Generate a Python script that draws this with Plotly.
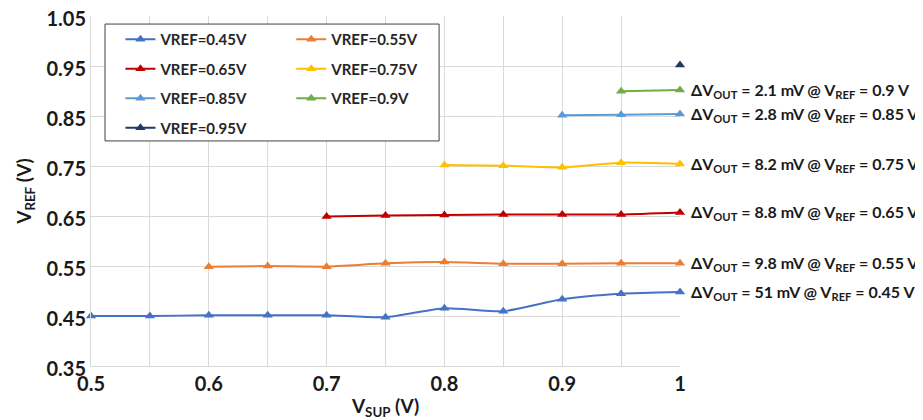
import plotly.graph_objects as go

vsup = [0.5, 0.55, 0.6, 0.65, 0.7, 0.75, 0.8, 0.85, 0.9, 0.95, 1.0]

names = ["VREF=0.45V", "VREF=0.55V", "VREF=0.65V", "VREF=0.75V",
         "VREF=0.85V", "VREF=0.9V", "VREF=0.95V"]
colors = ["#4472C4", "#ED7D31", "#C00000", "#FFC000", "#5B9BD5", "#70AD47", "#203864"]

v045 = [0.450, 0.450, 0.4515, 0.4515, 0.4515, 0.4475, 0.4655, 0.4595, 0.4835, 0.4945, 0.498]
v055 = [None, None, 0.5487, 0.550, 0.5487, 0.5553, 0.558, 0.5547, 0.5547, 0.5553, 0.5555]
v065 = [None, None, None, None, 0.649, 0.651, 0.652, 0.653, 0.653, 0.653, 0.657]
v075 = [None, None, None, None, None, None, 0.752, 0.7507, 0.7473, 0.7567, 0.754]
v085 = [None, None, None, None, None, None, None, None, 0.8513, 0.8527, 0.854]
v090 = [None, None, None, None, None, None, None, None, None, 0.8993, 0.902]
v095 = [None, None, None, None, None, None, None, None, None, None, 0.952]
series = [v045, v055, v065, v075, v085, v090, v095]

notes = ["ΔV<sub>OUT</sub> = 51 mV @ V<sub>REF</sub> = 0.45 V",
         "ΔV<sub>OUT</sub> = 9.8 mV @ V<sub>REF</sub> = 0.55 V",
         "ΔV<sub>OUT</sub> = 8.8 mV @ V<sub>REF</sub> = 0.65 V",
         "ΔV<sub>OUT</sub> = 8.2 mV @ V<sub>REF</sub> = 0.75 V",
         "ΔV<sub>OUT</sub> = 2.8 mV @ V<sub>REF</sub> = 0.85 V",
         "ΔV<sub>OUT</sub> = 2.1 mV @ V<sub>REF</sub> = 0.9 V"]

xtickvals = [0.5, 0.6, 0.7, 0.8, 0.9, 1.0]
xticktext = ["0.5", "0.6", "0.7", "0.8", "0.9", "1"]
ytickvals = [0.35, 0.45, 0.55, 0.65, 0.75, 0.85, 0.95, 1.05]
yticktext = ["0.35", "0.45", "0.55", "0.65", "0.75", "0.85", "0.95", "1.05"]

FONT = "Lato"
fig = go.Figure()
left_col = [0, 2, 4, 6]
for i, (nm, col, ys) in enumerate(zip(names, colors, series)):
    fig.add_trace(go.Scatter(
        x=vsup, y=ys, name=nm, mode="lines+markers",
        line=dict(color=col, width=2, shape="spline", smoothing=0.6),
        marker=dict(symbol="triangle-up", size=9, color=col),
        cliponaxis=False, connectgaps=False,
        legendgroup=nm,
        legend="legend" if i in left_col else "legend2",
    ))

for i, txt in enumerate(notes):
    last = [v for v in series[i] if v is not None][-1]
    fig.add_annotation(x=1.0, y=last, xref="x", yref="y", text=txt,
                       showarrow=False, xanchor="left", yanchor="middle", xshift=9,
                       font=dict(family=FONT, size=16, color="#1a1a1a", weight="bold"))

fig.add_shape(type="rect", xref="paper", yref="paper",
              x0=0.0238, x1=0.591, y0=0.643, y1=0.977,
              line=dict(color="#404040", width=1), fillcolor="white", layer="above")

legfont = dict(family=FONT, size=15, color="#262626", weight="bold")
fig.update_layout(
    width=915, height=412,
    margin=dict(l=83, r=243, t=8, b=54),
    paper_bgcolor="white", plot_bgcolor="white",
    font=dict(family=FONT, color="#262626"),
    legend=dict(x=0.05, y=0.98, xanchor="left", yanchor="top", bgcolor="rgba(0,0,0,0)",
                font=legfont, tracegroupgap=7, itemwidth=30),
    legend2=dict(x=0.34, y=0.98, xanchor="left", yanchor="top", bgcolor="rgba(0,0,0,0)",
                 font=legfont, tracegroupgap=7, itemwidth=30),
    xaxis=dict(range=[0.5, 1.0], tickvals=xtickvals, ticktext=xticktext, automargin=False,
               showgrid=True, gridcolor="#D9D9D9", gridwidth=1, ticklabeloverflow="allow",
               minor=dict(dtick=0.05, tick0=0.5, showgrid=True, gridcolor="#D9D9D9", gridwidth=1),
               showline=True, linecolor="#D9D9D9", zeroline=False, ticks="",
               tickfont=dict(family=FONT, size=20, color="#1a1a1a", weight="bold"),
               title=dict(text="V<sub>SUP</sub> (V)", standoff=6,
                          font=dict(family=FONT, size=19, color="#1a1a1a", weight="bold"))),
    yaxis=dict(range=[0.35, 1.05000001], tickvals=ytickvals, ticktext=yticktext, automargin=False,
               showgrid=True, gridcolor="#D9D9D9", gridwidth=1, ticklabeloverflow="allow",
               ticklabelshift=3,
               showline=True, linecolor="#D9D9D9", zeroline=False, ticks="",
               tickfont=dict(family=FONT, size=20, color="#1a1a1a", weight="bold"),
               title=dict(text="V<sub>REF</sub> (V)", standoff=9,
                          font=dict(family=FONT, size=19, color="#1a1a1a", weight="bold"))),
)
fig.write_html("out.html")
